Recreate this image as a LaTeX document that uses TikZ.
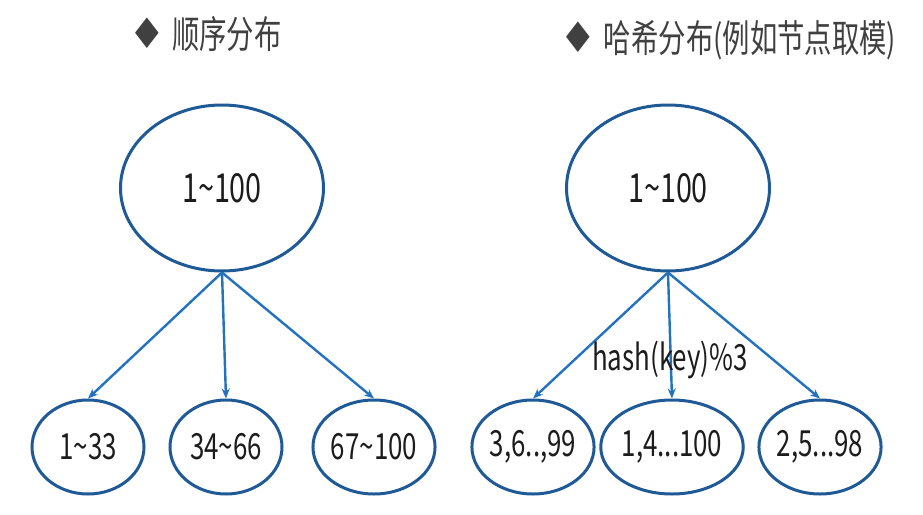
\documentclass[tikz,border=0pt]{standalone}
\usepackage{fontspec}
\setmainfont{Noto Sans CJK SC}[FakeStretch=0.72]
\newfontfamily\symfont{DejaVu Sans}
\usetikzlibrary{arrows.meta,shapes.geometric}
\definecolor{edgeblue}{HTML}{1F5A96}
\definecolor{arrowblue}{HTML}{2272C0}
\definecolor{titlegray}{HTML}{404040}
\definecolor{textdark}{HTML}{1C1C1C}
\tikzset{
  bignode/.style={ellipse, draw=edgeblue, line width=3pt, minimum width=203pt, minimum height=166pt, inner sep=0pt, text=textdark, font=\fontsize{40}{44}\selectfont},
  smallnode/.style={ellipse, draw=edgeblue, line width=3pt, minimum width=112pt, minimum height=94pt, inner sep=0pt, text=textdark, font=\fontsize{36}{40}\selectfont},
  titletext/.style={text=titlegray, font=\fontsize{38}{42}\selectfont, inner sep=0pt},
  link/.style={draw=arrowblue, line width=2.4pt, -{Stealth[length=10pt,width=8pt]}},
  labeltext/.style={text=textdark, font=\fontsize{36}{40}\selectfont, inner sep=0pt}
}
\begin{document}
\begin{tikzpicture}[x=1pt,y=-1pt]
\useasboundingbox (0,0) rectangle (923,514);
% titles
\node[titletext] (t1) at (205,34) {{\symfont\fontsize{42}{44}\selectfont ♦}\,顺序分布};
\node[titletext] (t2) at (728,40) {{\symfont\fontsize{42}{44}\selectfont ♦}\,哈希分布(例如节点取模)};
% left tree
\node[bignode] (L) at (222,188) {1\textasciitilde100};
\node[smallnode] (L1) at (88,447) {1\textasciitilde33};
\node[smallnode] (L2) at (226,447) {34\textasciitilde66};
\node[smallnode] (L3) at (374,447) {67\textasciitilde100};
\draw[link] (L.south) -- (L1.north);
\draw[link] (L.south) -- (L2.north);
\draw[link] (L.south) -- (L3.north);
% right tree
\node[bignode] (R) at (668,188) {1\textasciitilde100};
\node[smallnode] (R1) at (533,447) {3,6..,99};
\node[smallnode] (R2) at (672,447) {1,4...100};
\node[smallnode] (R3) at (820,447) {2,5...98};
\draw[link] (R.south) -- (R1.north);
\draw[link] (R.south) -- (R2.north);
\draw[link] (R.south) -- (R3.north);
\node[labeltext] (H) at (670,360) {hash(key)\%3};
\end{tikzpicture}
\end{document}
